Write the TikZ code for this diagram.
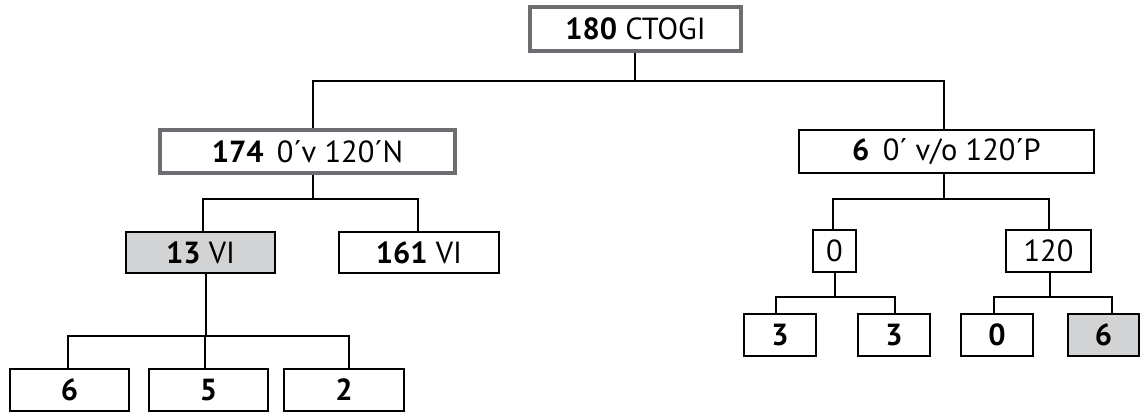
\documentclass[tikz,border=0pt]{standalone}
\usepackage{fontspec}
\setmainfont{PT Sans}
\definecolor{frame}{HTML}{6D6E71}
\definecolor{shade}{HTML}{D1D3D4}
\begin{document}
\begin{tikzpicture}[x=1pt,y=-1pt,
  box/.style={draw=black,line width=2pt,fill=white,inner sep=0pt,font=\fontsize{30.5}{32}\selectfont},
  gbox/.style={box,draw=frame,line width=4pt},
  sbox/.style={box,fill=shade},
  conn/.style={draw=black,line width=1.5pt}]
\useasboundingbox (0,0) rectangle (1143,413);
% level 0
\node[gbox,minimum width=211pt,minimum height=44pt] (top) at (635.5,29) {\textbf{180} CTOGI};
% level 1
\node[gbox,minimum width=295pt,minimum height=43pt] (n174) at (307.5,151.5) {\textbf{174}\, 0´v 120´N};
\node[box,minimum width=295pt,minimum height=43pt] (n6) at (946.5,151.5) {\textbf{6}\, 0´ v/o 120´P};
% level 2
\node[sbox,minimum width=149pt,minimum height=41pt] (n13) at (200.5,252.5) {\textbf{13} VI};
\node[box,minimum width=160pt,minimum height=41pt] (n161) at (419,252.5) {\textbf{161} VI};
\node[box,minimum width=43pt,minimum height=42pt] (b0) at (834.5,251) {0};
\node[box,minimum width=85pt,minimum height=42pt] (b120) at (1048.5,251) {120};
% level 3
\node[box,minimum width=119pt,minimum height=42pt] (l6) at (69.5,390) {\textbf{6}};
\node[box,minimum width=119pt,minimum height=42pt] (l5) at (208.5,390) {\textbf{5}};
\node[box,minimum width=120pt,minimum height=42pt] (l2) at (344,390) {\textbf{2}};
\node[box,minimum width=72pt,minimum height=42pt] (r3a) at (780,335) {\textbf{3}};
\node[box,minimum width=72pt,minimum height=42pt] (r3b) at (894,335) {\textbf{3}};
\node[box,minimum width=72pt,minimum height=42pt] (r0) at (997,335) {\textbf{0}};
\node[sbox,minimum width=71pt,minimum height=42pt] (r6) at (1103.5,335) {\textbf{6}};
% junctions
\coordinate (j1) at (635,81);
\coordinate (j2) at (313,199);
\coordinate (j3) at (944,199);
\coordinate (j4) at (206,336);
\coordinate (j5) at (835,297);
\coordinate (j6) at (1050,297);
% connectors
\draw[conn] ([xshift=-0.5pt]top.south) -- (j1);
\draw[conn] ([xshift=5.5pt]n174.north) |- (j1) -| ([xshift=-2.5pt]n6.north);
\draw[conn] ([xshift=5.5pt]n174.south) -- (j2);
\draw[conn] ([xshift=2.5pt]n13.north) |- (j2) -| ([xshift=-1pt]n161.north);
\draw[conn] ([xshift=-2.5pt]n6.south) -- (j3);
\draw[conn] ([xshift=-1.5pt]b0.north) |- (j3) -| ([xshift=0.5pt]b120.north);
\draw[conn] ([xshift=5.5pt]n13.south) -- (j4);
\draw[conn] ([xshift=-1.5pt]l6.north) |- (j4) -| ([xshift=5pt]l2.north);
\draw[conn] ([xshift=-3.5pt]l5.north) -- ([xshift=-3.5pt]l5.north |- j4);
\draw[conn] ([xshift=0.5pt]b0.south) -- (j5);
\draw[conn] ([xshift=-4pt]r3a.north) |- (j5) -| ([xshift=1pt]r3b.north);
\draw[conn] ([xshift=1.5pt]b120.south) -- (j6);
\draw[conn] ([xshift=-3pt]r0.north) |- (j6) -| ([xshift=8.5pt]r6.north);
\end{tikzpicture}
\end{document}
